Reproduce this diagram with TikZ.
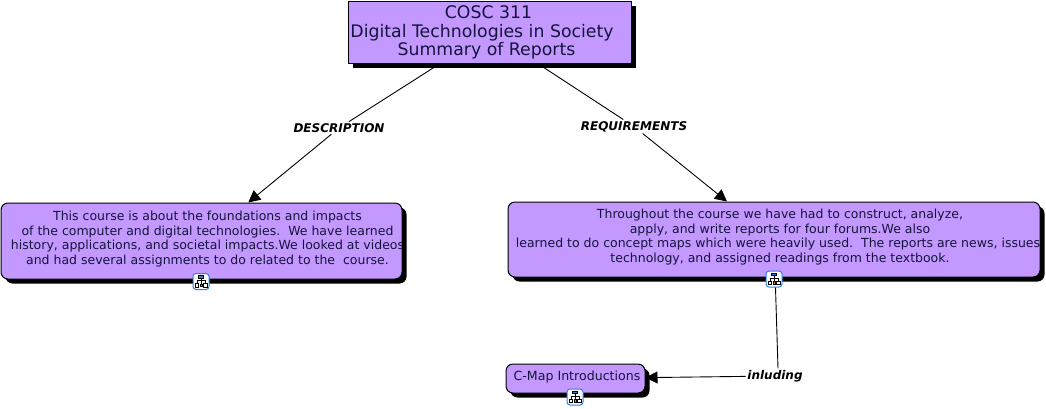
\documentclass[tikz,border=0pt]{standalone}
\usepackage{fontspec}
\setmainfont{DejaVu Sans}
\usepackage{tikz}
\usetikzlibrary{arrows.meta, shadows, positioning}
\definecolor{cmapfill}{HTML}{C499FF}
\definecolor{cmaptext}{HTML}{14143C}
\definecolor{cmapblue}{HTML}{2F7FD8}
\tikzset{
  concept/.style={draw=black, fill=cmapfill, line width=1pt, text=cmaptext, align=center, inner sep=0pt,
    drop shadow={shadow xshift=4.5pt, shadow yshift=-4.5pt, opacity=1, fill=black}},
  linking/.style={font=\fontsize{12}{14}\selectfont\bfseries\itshape, inner sep=1.5pt, text=black},
  link/.style={draw=black, line width=.9pt},
  linkarrow/.style={link, -{Triangle[length=12pt, width=12pt]}},
  mapicon/.style={draw=cmapblue, fill=white, rounded corners=3pt, line width=1pt, minimum size=16pt, inner sep=0pt},
  mapglyph/.pic={
    \draw[line width=.7pt, black] (0,-4) -- (0,3) (-4,3) -- (-4,-1) -- (4,-1) -- (4,3);
    \filldraw[draw=black, line width=.5pt, fill=cmapblue] (-2.5,-6) rectangle (2.5,-3.5);
    \filldraw[draw=black, line width=.5pt, fill=white] (-6,2) rectangle (-2.5,5.5);
    \filldraw[draw=black, line width=.5pt, fill=white] (2.5,2) rectangle (6,5.5);
    \filldraw[draw=black, line width=.5pt, fill=orange] (-1.2,2.5) rectangle (1.2,5);
  }
}
\begin{document}
\begin{tikzpicture}[x=1pt, y=-1pt]
  \useasboundingbox (0,0) rectangle (1046,408);
  % concepts
  \node[concept, minimum width=283pt, minimum height=62pt, sharp corners] (main) at (489.5,32) {};
  \node[concept, minimum width=401pt, minimum height=76pt, rounded corners=7pt] (course) at (201.5,241) {};
  \node[concept, minimum width=532pt, minimum height=75pt, rounded corners=7pt] (reports) at (774,239.5) {};
  \node[concept, minimum width=139pt, minimum height=29pt, rounded corners=7pt] (intro) at (575.5,378.5) {};
  % texts, cut off at the edge of the box
  \node[text=cmaptext, align=center, inner sep=0pt, font=\fontsize{17.3}{18.8}\selectfont] (maintext) at (482,32.5) {\hspace*{13pt}COSC 311\\Digital Technologies in Society\\\hspace*{9pt}Summary of Reports};
  \begin{scope}
    \clip (2,204) rectangle (401,278);
    \node[text=cmaptext, align=center, inner sep=0pt, font=\fontsize{12.5}{14.6}\selectfont] (coursetext) at (207.5,239) {This course is about the foundations and impacts\\of the computer and digital technologies.\ \ We have learned\\history, applications, and societal impacts.We looked at videos\\and had several assignments to do related to the\ \ course.};
  \end{scope}
  \begin{scope}
    \clip (509,203) rectangle (1040,276);
    \node[text=cmaptext, align=center, inner sep=0pt, font=\fontsize{12.5}{14.6}\selectfont] (reportstext) at (780,237) {Throughout the course we have had to construct, analyze,\\apply, and write reports for four forums.We also\\learned to do concept maps which were heavily used.\ \ The reports are news, issues,\\technology, and assigned readings from the textbook.};
  \end{scope}
  \node[text=cmaptext, inner sep=0pt, font=\fontsize{12.6}{14.6}\selectfont] (introtext) at (577,377) {C-Map Introductions};
  % linking phrases
  \node[linking] (description) at (339,128) {DESCRIPTION};
  \node[linking] (requirements) at (634,126.5) {REQUIREMENTS};
  \node[linking] (inluding) at (775,376) {inluding};
  % connectors
  \draw[link] (main) -- (description);
  \draw[linkarrow] (description) -- (course);
  \draw[link] (main) -- (requirements);
  \draw[linkarrow] (requirements) -- (reports);
  \draw[link] (reports) -- ([xshift=3pt]inluding.north);
  \draw[linkarrow] (inluding) -- (intro);
  % map icons
  \node[mapicon] (courseicon) at (201,281.5) {};
  \pic at (courseicon) {mapglyph};
  \node[mapicon] (reportsicon) at (774,279) {};
  \pic at (reportsicon) {mapglyph};
  \node[mapicon] (introicon) at (575,397) {};
  \pic at (introicon) {mapglyph};
\end{tikzpicture}
\end{document}
